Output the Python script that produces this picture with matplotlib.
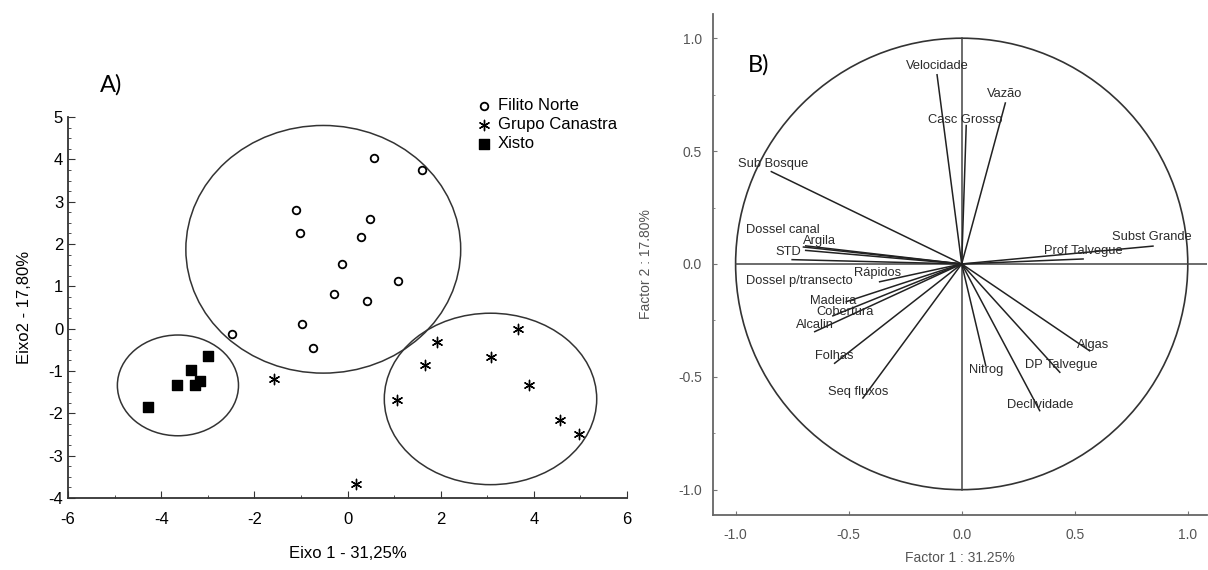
import numpy as np
import matplotlib.pyplot as plt
from matplotlib.patches import Ellipse, Circle
from matplotlib.ticker import MultipleLocator

# ---- panel A data (scores) ----
filito_x = [0.56, 1.60, -1.11, 0.48, -1.03, 0.29, -0.11, 1.08, -0.30, 0.41, -0.97, -2.49, -0.75]
filito_y = [4.02, 3.75, 2.81, 2.60, 2.26, 2.17, 1.53, 1.12, 0.83, 0.65, 0.12, -0.12, -0.45]
canastra_x = [3.67, 1.93, 3.07, 1.66, -1.58, 3.89, 1.06, 4.56, 4.96, 0.19]
canastra_y = [0.00, -0.32, -0.67, -0.87, -1.20, -1.34, -1.68, -2.16, -2.49, -3.67]
xisto_x = [-3.00, -3.37, -3.16, -3.67, -3.28, -4.29]
xisto_y = [-0.64, -0.98, -1.24, -1.34, -1.34, -1.84]

# group ellipses: centre x, centre y, width, height
ell_cx = [-0.52, -3.64, 3.07]
ell_cy = [1.875, -1.34, -1.66]
ell_w = [5.9, 2.60, 4.56]
ell_h = [5.85, 2.38, 4.05]

# ---- panel B data (loadings) ----
var_names = ['Velocidade', 'Vazão', 'Casc Grosso', 'Sub Bosque', 'Dossel canal', 'Argila',
             'STD', 'Dossel p/transecto', 'Rápidos', 'Madeira', 'Cobertura', 'Alcalin',
             'Folhas', 'Seq fluxos', 'Nitrog', 'Declividade', 'DP Talvegue', 'Algas',
             'Prof Talvegue', 'Subst Grande']
load_x = [-0.109, 0.193, 0.020, -0.842, -0.69, -0.70, -0.69, -0.75, -0.363, -0.51, -0.57,
          -0.65, -0.562, -0.437, 0.106, 0.345, 0.434, 0.566, 0.537, 0.846]
load_y = [0.838, 0.713, 0.613, 0.409, 0.08, 0.075, 0.06, 0.019, -0.079, -0.167, -0.23,
          -0.30, -0.44, -0.594, -0.449, -0.65, -0.48, -0.385, 0.022, 0.079]
# label anchor points
lab_x = [-0.109, 0.19, 0.017, -0.835, -0.79, -0.63, -0.765, -0.716, -0.37, -0.57, -0.518,
         -0.65, -0.562, -0.459, 0.106, 0.347, 0.441, 0.581, 0.537, 0.839]
lab_y = [0.878, 0.755, 0.637, 0.444, 0.152, 0.103, 0.052, -0.074, -0.042, -0.164, -0.212,
         -0.272, -0.409, -0.569, -0.47, -0.623, -0.446, -0.357, 0.058, 0.119]

plt.rcParams['font.family'] = ['Liberation Sans', 'DejaVu Sans']
plt.rcParams['axes.unicode_minus'] = False

fig = plt.figure(figsize=(12.08, 5.70), dpi=100)

# ================= panel A =================
ax = fig.add_axes([68/1208, 72/570, 559/1208, 381/570])
ax.scatter(filito_x, filito_y, marker='o', s=30, facecolors='white', edgecolors='black',
           linewidths=1.3, label='Filito Norte', zorder=3)
ax.scatter(canastra_x, canastra_y, marker=(6, 2, 0), s=55, color='black', linewidths=1.0,
           label='Grupo Canastra', zorder=3)
ax.scatter(xisto_x, xisto_y, marker='s', s=60, color='black', label='Xisto', zorder=3)
for cx, cy, w, h in zip(ell_cx, ell_cy, ell_w, ell_h):
    ax.add_patch(Ellipse((cx, cy), w, h, fill=False, edgecolor='#333333', lw=1.1))

ax.set_xlim(-6, 6)
ax.set_ylim(-4, 5)
ax.set_xticks(np.arange(-6, 7, 2))
ax.set_yticks(np.arange(-4, 6, 1))
ax.xaxis.set_minor_locator(MultipleLocator(1))
ax.yaxis.set_minor_locator(MultipleLocator(0.25))
ax.tick_params(which='both', direction='in', labelsize=12, colors='#333333')
ax.tick_params(which='major', length=5)
ax.tick_params(which='minor', length=2.5)
ax.tick_params(axis='x', pad=10)
for lab in ax.get_xticklabels() + ax.get_yticklabels():
    lab.set_color('black')
ax.spines['top'].set_visible(False)
ax.spines['right'].set_visible(False)
for s in ['left', 'bottom']:
    ax.spines[s].set_color('#333333')
    ax.spines[s].set_linewidth(1.3)
ax.set_xlabel('Eixo 1 - 31,25%', fontsize=12, labelpad=14)
ax.set_ylabel('Eixo2 - 17,80%', fontsize=12, labelpad=12)
ax.legend(loc='upper left', bbox_to_anchor=(0.73, 1.05), frameon=False, fontsize=12,
          handletextpad=0.3, labelspacing=0.25, borderpad=0, borderaxespad=0,
          handlelength=1.0, scatterpoints=1)
fig.text(100/1208, 1 - 85/570, 'A)', fontsize=17, family='Lato', va='center', ha='left')

# ================= panel B =================
bx = fig.add_axes([713/1208, 55.5/570, 494/1208, 500/570])
bx.add_patch(Circle((0, 0), 1.0, fill=False, edgecolor='#333333', lw=1.2))
bx.plot([-1.0, 1.1], [0, 0], color='#444444', lw=1.1)
bx.plot([0, 0], [-1.0, 1.0], color='#444444', lw=1.1)
for x, y in zip(load_x, load_y):
    bx.plot([0, x], [0, y], color='#222222', lw=1.1)
for name, x, y in zip(var_names, lab_x, lab_y):
    bx.text(x, y, name, fontsize=9.3, color='#2a2a2a', ha='center', va='center')

bx.set_xlim(-1.1, 1.085)
bx.set_ylim(-1.11, 1.105)
bx.set_xticks([-1.0, -0.5, 0.0, 0.5, 1.0])
bx.set_yticks([-1.0, -0.5, 0.0, 0.5, 1.0])
bx.set_xticklabels(['-1.0', '-0.5', '0.0', '0.5', '1.0'])
bx.set_yticklabels(['-1.0', '-0.5', '0.0', '0.5', '1.0'])
bx.yaxis.set_minor_locator(MultipleLocator(0.25))
bx.tick_params(which='both', direction='in', labelsize=10, colors='#777777',
               labelcolor='#555555')
bx.tick_params(which='major', length=3)
bx.tick_params(which='minor', length=1.5)
bx.tick_params(axis='x', pad=10)
bx.tick_params(axis='y', pad=8)
bx.spines['top'].set_visible(False)
bx.spines['right'].set_visible(False)
for s in ['left', 'bottom']:
    bx.spines[s].set_color('#666666')
    bx.spines[s].set_linewidth(1.3)
bx.set_xlabel('Factor 1 : 31.25%', fontsize=10, color='#555555', labelpad=6)
bx.set_ylabel('Factor 2 : 17.80%', fontsize=10, color='#555555', labelpad=18)
fig.text(748/1208, 1 - 65/570, 'B)', fontsize=17, family='Lato', va='center', ha='left')

fig.savefig('out.png', dpi=100)
